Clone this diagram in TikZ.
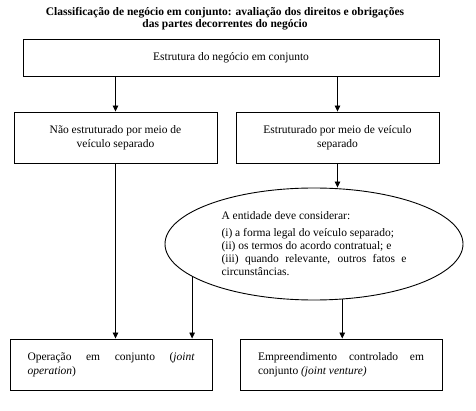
\documentclass[tikz,border=0pt]{standalone}
\usepackage{fontspec}
\setmainfont{Liberation Serif}
\usetikzlibrary{arrows.meta,shapes.geometric}
\hyphenpenalty=10000
\exhyphenpenalty=10000
\tolerance=10000
\begin{document}
\begin{tikzpicture}[x=1pt,y=-1pt,
  box/.style={draw,line width=0.9pt,rectangle,inner sep=0pt,minimum width=#1,minimum height=51pt},
  txt/.style={font=\fontsize{11.5}{14}\selectfont},
  conn/.style={line width=0.8pt,-{Triangle[length=6pt,width=5.5pt]}}]
\useasboundingbox (0,0) rectangle (476,411);
\node[align=center,font=\fontsize{11.5}{12.5}\selectfont\bfseries] (title) at (225,18.5)
  {Classificação de negócio em conjunto: avaliação dos direitos e obrigações\\das partes decorrentes do negócio};
\node[draw,line width=0.9pt,inner sep=0pt,minimum width=416pt,minimum height=37pt,txt] (top) at (231,57.5)
  {Estrutura do negócio em conjunto};
\node[box=203pt,txt,align=center] (lb) at (115.5,137.5)
  {Não estruturado por meio de\\veículo separado};
\node[box=203pt,txt,align=center] (rb) at (337.5,137.5)
  {Estruturado por meio de veículo\\separado};
\node[draw,line width=0.9pt,ellipse,inner sep=0pt,minimum width=298pt,minimum height=112pt,
  text width=185pt,align=justify,font=\fontsize{11.5}{13}\selectfont] (ell) at (314,244)
  {A entidade deve considerar:\\[4pt]
   (i) a forma legal do veículo separado;\\
   (ii) os termos do acordo contratual; e\\
   (iii) quando relevante, outros fatos e circunstâncias.};
\node[box=202pt,txt,text width=167pt,align=justify] (bl) at (111,364.5)
  {Operação em conjunto (\textit{joint operation})};
\node[box=202pt,txt,text width=166pt,align=justify] (br) at (341,364.5)
  {Empreendimento controlado em conjunto \textit{(joint venture)}};
\draw[conn] (top.south -| lb.north) -- (lb.north);
\draw[conn] (top.south -| rb.north) -- (rb.north);
\draw[conn] (rb.south) -- (rb.south |- ell.north);
\draw[conn] (lb.south) -- (lb.south |- bl.north);
\coordinate (e1) at (ell.195);
\coordinate (e2) at (ell.297);
\draw[conn] (e1) -- (e1 |- bl.north);
\draw[conn] (e2) -- (e2 |- br.north);
\end{tikzpicture}
\end{document}
